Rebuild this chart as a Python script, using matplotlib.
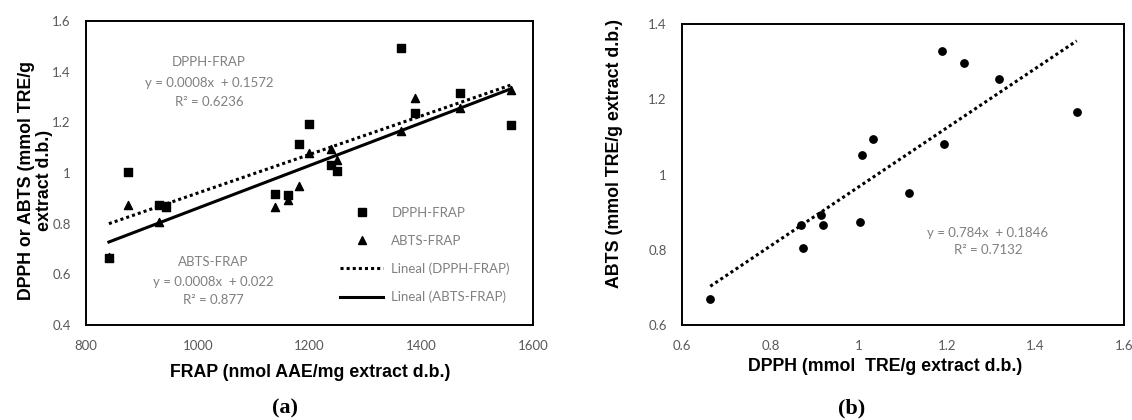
import numpy as np
import matplotlib
matplotlib.use("Agg")
import matplotlib.pyplot as plt
from matplotlib.lines import Line2D
from matplotlib.ticker import FuncFormatter

# ---- data ----
frap = [841, 875, 930, 943, 1138, 1161, 1181, 1199, 1238, 1250, 1364, 1389, 1469, 1561]
dpph = [0.664, 1.003, 0.873, 0.870, 0.919, 0.915, 1.113, 1.192, 1.032, 1.007, 1.493, 1.238, 1.317, 1.189]
abts = [0.669, 0.873, 0.805, 0.865, 0.865, 0.893, 0.950, 1.080, 1.094, 1.052, 1.166, 1.297, 1.255, 1.328]

xticks_a = [800, 1000, 1200, 1400, 1600]
yticks_a = [0.4, 0.6, 0.8, 1.0, 1.2, 1.4, 1.6]
xticks_b = [0.6, 0.8, 1.0, 1.2, 1.4, 1.6]
yticks_b = [0.6, 0.8, 1.0, 1.2, 1.4]

eq_dpph = ["DPPH-FRAP", "y = 0.0008x  + 0.1572", "R\u00b2 = 0.6236"]
eq_abts = ["ABTS-FRAP", "y = 0.0008x  + 0.022", "R\u00b2 = 0.877"]
eq_b = ["y = 0.784x  + 0.1846", "R\u00b2 = 0.7132"]

TICKFONT = "Lato"
LABFONT = "Liberation Sans"
TICKCOL = "#595959"
ANNCOL = "#808080"
LABSIZE = 12.8

fig = plt.figure(figsize=(11.32, 4.2), dpi=100)
axa = fig.add_axes([86/1132, 1-325/420, 447/1132, 304/420])
axb = fig.add_axes([682/1132, 1-325/420, 442/1132, 301/420])

fmt = FuncFormatter(lambda v, p: f"{v:g}")

def style(ax, xt, yt):
    ax.set_xticks(xt)
    ax.set_yticks(yt)
    ax.set_xlim(xt[0], xt[-1])
    ax.set_ylim(yt[0], yt[-1])
    ax.xaxis.set_major_formatter(fmt)
    ax.yaxis.set_major_formatter(fmt)
    ax.tick_params(length=0, pad=11, labelsize=9.5, labelcolor=TICKCOL)
    for lab in ax.get_xticklabels() + ax.get_yticklabels():
        lab.set_fontfamily(TICKFONT)
    for s in ax.spines.values():
        s.set_linewidth(1.4)
        s.set_color("black")

# ---- panel a ----
fx = np.array(frap, float)
p_d = np.polyfit(fx, dpph, 1)
p_a = np.polyfit(fx, abts, 1)
xl = np.array([fx.min(), fx.max()])
axa.plot(xl, np.polyval(p_d, xl), color="black", lw=2.2, linestyle=(0, (1, 1)), zorder=2)
axa.plot(xl, np.polyval(p_a, xl), color="black", lw=2.2, zorder=2)
axa.scatter(frap, abts, marker="^", s=34, color="black", zorder=3)
axa.scatter(frap, dpph, marker="s", s=34, color="black", zorder=4)
style(axa, xticks_a, yticks_a)

tk = dict(ha="center", va="center", color=ANNCOL, fontsize=9.5, family=TICKFONT,
          transform=axa.transAxes)
for txt, yy in zip(eq_dpph, [0.865, 0.796, 0.734]):
    axa.text(0.275, yy, txt, **tk)
for txt, yy in zip(eq_abts, [0.208, 0.143, 0.082]):
    axa.text(0.284, yy, txt, **tk)

handles = [
    Line2D([], [], marker="s", ls="none", color="black", markersize=6),
    Line2D([], [], marker="^", ls="none", color="black", markersize=6),
    Line2D([], [], color="black", lw=2.2, linestyle=(0, (1, 1))),
    Line2D([], [], color="black", lw=2.2),
]
labels = ["DPPH-FRAP", "ABTS-FRAP", "Lineal (DPPH-FRAP)", "Lineal (ABTS-FRAP)"]
leg = axa.legend(handles, labels, loc="upper left", bbox_to_anchor=(0.568, 0.389),
                 frameon=False, borderpad=0, borderaxespad=0, handlelength=3.3,
                 handletextpad=0.6, labelspacing=1.2,
                 prop={"family": TICKFONT, "size": 9.5})
for t in leg.get_texts():
    t.set_color(ANNCOL)

axa.set_xlabel("FRAP (nmol AAE/mg extract d.b.)", fontsize=LABSIZE, fontweight="bold",
               family=LABFONT, color="black")
axa.set_ylabel("DPPH or ABTS (mmol TRE/g\nextract d.b.)", fontsize=LABSIZE,
               fontweight="bold", family=LABFONT, color="black", linespacing=1.05)
axa.xaxis.set_label_coords((310-86)/447, -(364-325)/304)
axa.yaxis.set_label_coords((53-86)/447, (325-180)/304)

# ---- panel b ----
dx = np.array(dpph, float)
p_b = np.polyfit(dx, abts, 1)
xb = np.array([dx.min(), dx.max()])
axb.plot(xb, np.polyval(p_b, xb), color="black", lw=2.2, linestyle=(0, (1, 1)), zorder=2)
axb.scatter(dpph, abts, marker="o", s=28, color="black", zorder=3)
style(axb, xticks_b, yticks_b)
tkb = dict(tk)
tkb["transform"] = axb.transAxes
for txt, yy in zip(eq_b, [0.306, 0.249]):
    axb.text(0.692, yy, txt, **tkb)

axb.set_xlabel("DPPH (mmol  TRE/g extract d.b.)", fontsize=LABSIZE, fontweight="bold",
               family=LABFONT, color="black")
axb.set_ylabel("ABTS (mmol TRE/g extract d.b.)", fontsize=LABSIZE, fontweight="bold",
               family=LABFONT, color="black")
axb.xaxis.set_label_coords((885-682)/442, -(358-325)/301)
axb.yaxis.set_label_coords((623-682)/442, (325-153)/301)

# ---- panel captions ----
fig.text(285/1132, 1-408/420, "(a)", ha="center", va="center", fontsize=16,
         family="Liberation Serif", fontweight="bold")
fig.text(852/1132, 1-408/420, "(b)", ha="center", va="center", fontsize=16,
         family="Liberation Serif", fontweight="bold")

fig.savefig("out.png", dpi=100)
